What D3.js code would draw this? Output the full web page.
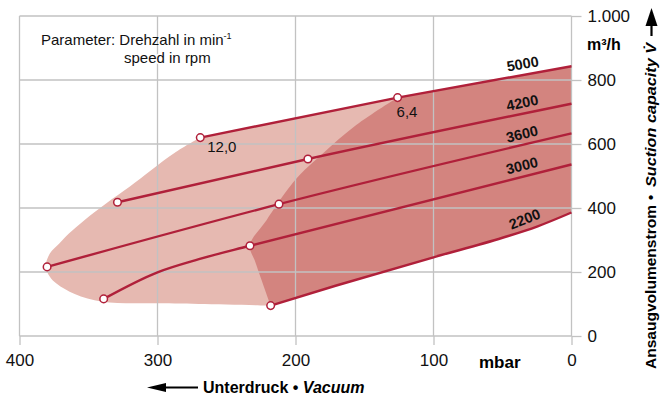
<!DOCTYPE html>
<html>
<head>
<meta charset="utf-8">
<script src="https://cdn.jsdelivr.net/npm/d3@7"></script>
<style>
  body { margin: 0; background: #fff; }
  svg text { font-family: "Liberation Sans", Arial, Helvetica, sans-serif; }
</style>
</head>
<body>
<div id="chart"></div>
<script>
// Data: vacuum in mbar, suction capacity in m3/h
const xTicks = [400, 300, 200, 100, 0];
const yTicks = [0, 200, 400, 600, 800, 1000];

const speeds = ["5000", "4200", "3600", "3000", "2200"];
const curve5000 = [[269, 620], [126, 745], [0, 843]];
const curve4200 = [[329, 418], [191, 553], [0, 726]];
const curve3600 = [[380, 216], [212, 412], [0, 633]];
const curve3000 = [[339, 116], [300, 199], [270, 240], [233, 282], [0, 536]];
const curve2200 = [[218, 95], [171, 157], [100, 246], [50, 307], [25, 342], [0, 386]];
const curves = [curve5000, curve4200, curve3600, curve3000, curve2200];

// points drawn as open circles
const markers = [[269, 620], [126, 745], [329, 418], [191, 553], [380, 216], [212, 412], [339, 116], [233, 282], [218, 95]];
const powerLabels = [{ text: "12,0", at: [269, 620] }, { text: "6,4", at: [126, 745] }];

// outline of the whole operating range, from 2200 start round to 5000 start
const rangeEdge = [[218, 95], [270, 100], [304, 102], [340, 107], [360, 131], [373, 163], [378, 185], [381, 217],
                   [378, 258], [371, 290], [364, 321], [353, 362], [337, 415], [320, 467], [288, 571], [269, 620]];
// outline of the continuous operation range, from 2200 start up to 5000 middle point
const contEdge = [[218, 95], [229, 230], [233, 284], [221, 362], [206, 456], [197, 503], [180, 571], [156, 659], [126, 745]];

const width = 669, height = 401;
const svg = d3.select("#chart").append("svg")
    .attr("width", width)
    .attr("height", height);

const x = d3.scaleLinear().domain([400, 0]).range([19.5, 571.5]);
const y = d3.scaleLinear().domain([0, 1000]).range([336, 16]);

const red = "#b0203a";
const gridColor = "#c2c2c2";

const lineMono = d3.line().x(d => x(d[0])).y(d => y(d[1])).curve(d3.curveMonotoneX);
const lineLin = d3.line().x(d => x(d[0])).y(d => y(d[1]));
const lineSmooth = d3.line().x(d => x(d[0])).y(d => y(d[1])).curve(d3.curveCatmullRom.alpha(0.5));
const lineFor = (i) => i === 0 ? lineLin : lineMono;

// filled areas
const rev2200 = curve2200.slice().reverse();
const lightPath = lineLin(curve5000) + "L" + lineMono(rev2200).slice(1) + "L" + lineSmooth(rangeEdge).slice(1) + "Z";
const darkPath = lineLin(curve5000.slice(1)) + "L" + lineMono(rev2200).slice(1) + "L" + lineSmooth(contEdge).slice(1) + "Z";

svg.append("path").attr("d", lightPath).attr("fill", "#e6b9b1");
svg.append("path").attr("d", darkPath).attr("fill", "#d3847f");

// grid
svg.append("g").selectAll("line")
    .data(xTicks)
    .join("line")
    .attr("x1", d => x(d)).attr("x2", d => x(d))
    .attr("y1", y(1000)).attr("y2", y(0))
    .attr("stroke", gridColor).attr("stroke-width", 1.3);
svg.append("g").selectAll("line")
    .data(yTicks)
    .join("line")
    .attr("x1", x(400)).attr("x2", x(0))
    .attr("y1", d => y(d)).attr("y2", d => y(d))
    .attr("stroke", gridColor).attr("stroke-width", 1.3);

// axes
const xAxis = svg.append("g")
    .attr("transform", `translate(0,${y(0)})`)
    .call(d3.axisBottom(x).tickValues(xTicks).tickSize(9).tickPadding(9).tickFormat(d => d));
const yAxis = svg.append("g")
    .attr("transform", `translate(${x(0)},0)`)
    .call(d3.axisRight(y).tickValues(yTicks).tickSize(10).tickPadding(6)
        .tickFormat(d => d === 1000 ? "1.000" : d));
[xAxis, yAxis].forEach(g => {
    g.select(".domain").remove();
    g.selectAll(".tick line").attr("stroke", gridColor).attr("stroke-width", 1.3);
    g.selectAll(".tick text").attr("fill", "#111").style("font-size", "17px");
});
xAxis.selectAll(".tick text").attr("dy", "0.71em");

svg.append("text")
    .attr("x", x(52)).attr("y", 368)
    .attr("text-anchor", "middle")
    .style("font-size", "17px").style("font-weight", "bold")
    .text("mbar");
svg.append("text")
    .attr("x", 587).attr("y", 50)
    .style("font-size", "16px").style("font-weight", "bold")
    .text("m³/h");

// speed curves
svg.append("g").selectAll("path")
    .data(curves)
    .join("path")
    .attr("d", (d, i) => lineFor(i)(d))
    .attr("fill", "none")
    .attr("stroke", red)
    .attr("stroke-width", 2.4);

// speed labels along the right end of each curve
function valueAt(pts, v) {
    for (let i = 0; i < pts.length - 1; i++) {
        const a = pts[i], b = pts[i + 1];
        if (v <= a[0] && v >= b[0]) return a[1] + (b[1] - a[1]) * (a[0] - v) / (a[0] - b[0]);
    }
    return pts[pts.length - 1][1];
}
const labelAt = [34, 34, 34, 34, 31];
const labelAngle = [-10, -12, -13.5, -14, -22];
svg.append("g").selectAll("text")
    .data(speeds)
    .join("text")
    .attr("transform", (d, i) => {
        const v = labelAt[i];
        return `translate(${x(v)},${y(valueAt(curves[i], v))}) rotate(${labelAngle[i]})`;
    })
    .attr("y", -6)
    .attr("text-anchor", "middle")
    .style("font-size", "14.5px").style("font-weight", "bold")
    .attr("fill", "#111")
    .text(d => d);

// markers
svg.append("g").selectAll("circle")
    .data(markers)
    .join("circle")
    .attr("cx", d => x(d[0])).attr("cy", d => y(d[1]))
    .attr("r", 3.8)
    .attr("fill", "#fff")
    .attr("stroke", red)
    .attr("stroke-width", 1.5);

svg.append("g").selectAll("text")
    .data(powerLabels)
    .join("text")
    .attr("x", (d, i) => x(d.at[0]) + (i === 0 ? 7 : -1))
    .attr("y", (d, i) => y(d.at[1]) + (i === 0 ? 14.5 : 19.5))
    .style("font-size", "15px")
    .attr("fill", "#111")
    .text(d => d.text);

// parameter note
const note = svg.append("text").attr("x", 41).attr("y", 45).style("font-size", "15px").attr("fill", "#111");
note.append("tspan").text("Parameter: Drehzahl in min");
note.append("tspan").attr("dy", -6).style("font-size", "9px").text("-1");
svg.append("text").attr("x", 124).attr("y", 63).style("font-size", "15px").attr("fill", "#111")
    .attr("stroke", "#fff").attr("stroke-width", 3).attr("paint-order", "stroke")
    .text("speed in rpm");

// right axis title, read bottom to top
const rightTitle = (yPos, txt, italic, len) => {
    const t = svg.append("text")
        .attr("transform", `translate(656,${yPos}) rotate(-90)`)
        .style("font-size", "15px").style("font-weight", "bold")
        .style("font-style", italic ? "italic" : "normal")
        .attr("fill", "#000")
        .text(txt);
    if (len) t.attr("textLength", len).attr("lengthAdjust", "spacingAndGlyphs");
    return t;
};
rightTitle(369, "Ansaugvolumenstrom", false, 164);
rightTitle(200, "•", false);
rightTitle(187, "Suction capacity V\u0307", true, 144);
svg.append("line").attr("x1", 651.5).attr("x2", 651.5).attr("y1", 36).attr("y2", 22)
    .attr("stroke", "#000").attr("stroke-width", 2.2);
svg.append("path").attr("d", "M645.5,26L657.5,26L651.5,8Z").attr("fill", "#000");

// bottom axis title
svg.append("line").attr("x1", 162).attr("x2", 198).attr("y1", 387.5).attr("y2", 387.5)
    .attr("stroke", "#000").attr("stroke-width", 2.2);
svg.append("path").attr("d", "M147,387.5L166,383L166,392Z").attr("fill", "#000");
const bottom = svg.append("text").attr("x", 203).attr("y", 393)
    .style("font-size", "16px").style("font-weight", "bold").attr("fill", "#000");
bottom.append("tspan").text("Unterdruck • ");
bottom.append("tspan").style("font-style", "italic").text("Vacuum");
</script>
</body>
</html>
